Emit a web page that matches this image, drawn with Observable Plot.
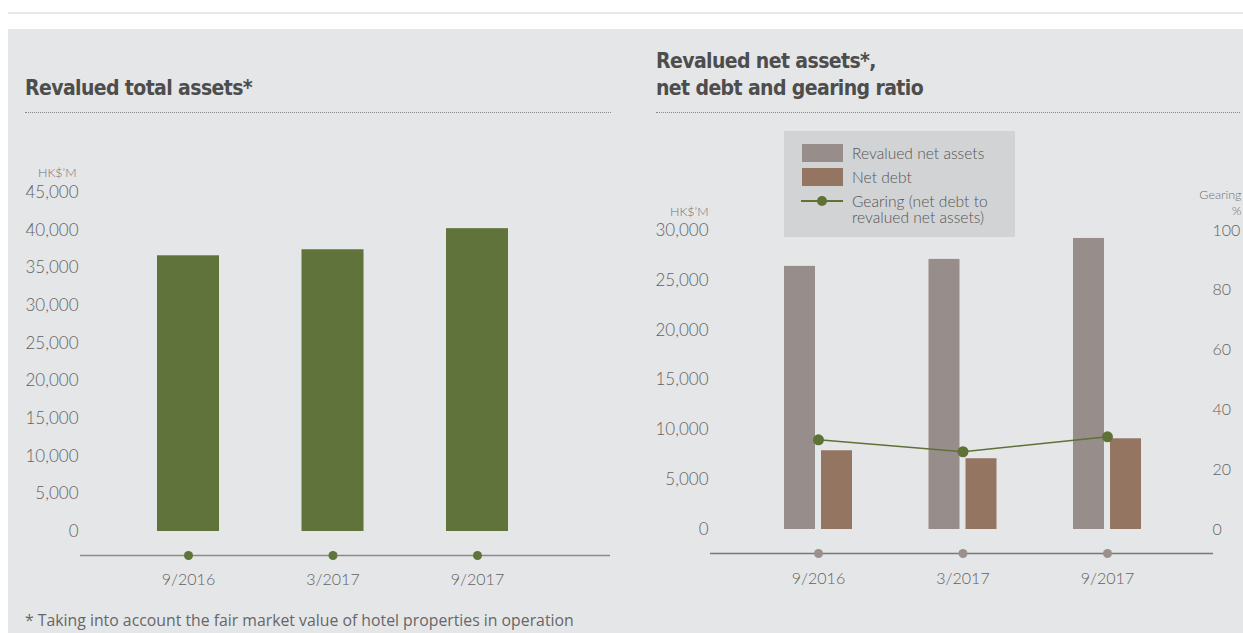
<!DOCTYPE html>
<html><head><meta charset="utf-8">
<script src="https://cdn.jsdelivr.net/npm/d3@7"></script>
<script src="https://cdn.jsdelivr.net/npm/@observablehq/plot@0.6"></script>
<style>
body{margin:0;background:#fff;font-family:Lato,"Open Sans",sans-serif;}
#wrap{position:relative;width:1243px;height:633px;overflow:hidden;}
.topline{position:absolute;left:8px;top:12px;width:1235px;height:2px;background:#e7e8ea;}
.panel{position:absolute;left:8px;top:29px;width:1235px;height:604px;background:#e5e6e8;}
.title{position:absolute;font-family:"Liberation Sans Narrow","DejaVu Sans Condensed",sans-serif;font-weight:bold;font-size:21px;letter-spacing:-0.6px;color:#4d4d4d;line-height:27px;white-space:nowrap;}
.rule{position:absolute;top:112px;height:0;border-top:1px dotted #8a8a8a;}
.plot{position:absolute;top:150px;}
.legend{position:absolute;left:784px;top:131px;width:231px;height:106px;background:#d2d3d5;}
.lg{position:absolute;left:68px;font-size:15.6px;color:#555;font-weight:300;line-height:16px;white-space:nowrap;}
.sw{position:absolute;left:18px;width:41px;height:18px;}
.foot{position:absolute;left:25px;top:609px;font-family:"Open Sans",sans-serif;font-size:15.8px;color:#666;white-space:nowrap;}
</style></head>
<body>
<div id="wrap">
  <div class="topline"></div>
  <div class="panel"></div>
  <div class="title" style="left:25px;top:75px;">Revalued total assets*</div>
  <div class="rule" style="left:25px;width:586px;"></div>
  <div class="title" style="left:656px;top:48px;">Revalued net assets*,<br>net debt and gearing ratio</div>
  <div class="rule" style="left:656px;width:584px;"></div>
  <div id="left" class="plot" style="left:0px;"></div>
  <div id="right" class="plot" style="left:640px;"></div>
  <div class="legend">
    <div class="sw" style="top:13px;background:#978d8a;"></div>
    <div class="lg" style="top:14px;">Revalued net assets</div>
    <div class="sw" style="top:37px;background:#937562;"></div>
    <div class="lg" style="top:38px;">Net debt</div>
    <div style="position:absolute;left:17px;top:69px;width:42px;height:1.5px;background:#5e7236;"></div>
    <div style="position:absolute;left:33px;top:65px;width:10px;height:10px;border-radius:50%;background:#5e7236;"></div>
    <div class="lg" style="top:62px;">Gearing (net debt to<br>revalued net assets)</div>
  </div>
  <div class="foot">* Taking into account the fair market value of hotel properties in operation</div>
</div>
<script>
const categories = ["9/2016", "3/2017", "9/2017"];
const totalAssets = [36600, 37400, 40200];
const netAssets = [26400, 27100, 29200];
const netDebt = [7900, 7100, 9100];
const gearing = [30, 26, 31];
const leftTicks = [0, 5000, 10000, 15000, 20000, 25000, 30000, 35000, 40000, 45000];
const rightTicks = [0, 5000, 10000, 15000, 20000, 25000, 30000];
const gearingTicks = [0, 20, 40, 60, 80, 100];
const gearingToAmount = 300; // 100% on the right axis equals 30,000 on the left axis

const leftData = categories.map((c, i) => ({date: c, value: totalAssets[i]}));
const rightData = categories.map((c, i) => ({date: c, net: netAssets[i], debt: netDebt[i], gearing: gearing[i]}));

const fmt = d3.format(",");
const family = "Lato, 'Open Sans', sans-serif";
const tickFont = {fontSize: 17, fill: "#626262", fontFamily: family, fontWeight: 300};
const rightTickFont = {fontSize: 16, fill: "#626262", fontFamily: family, fontWeight: 300};
const catFont = {fontSize: 16, fill: "#626262", fontFamily: family, fontWeight: 300};
const smallFont = {fontSize: 12.5, fill: "#707070", fontFamily: family, fontWeight: 300};

const left = Plot.plot({
  width: 620, height: 450,
  marginLeft: 80, marginRight: 10, marginTop: 42, marginBottom: 69,
  style: {background: "transparent", overflow: "visible"},
  x: {type: "band", domain: categories, range: [84.75, 580.25], paddingInner: 0.571, paddingOuter: 0.5, round: false, axis: null},
  y: {domain: [0, 45000], axis: null},
  marks: [
    Plot.ruleY([0], {dy: 24, stroke: "#8a8a8a", strokeWidth: 1.5}),
    Plot.barY(leftData, {x: "date", y: "value", fill: "#60733a"}),
    Plot.dot(leftData, {x: "date", y: () => 0, dy: 24, r: 4.5, fill: "#60733a", stroke: "none"}),
    Plot.text(leftData, {x: "date", y: () => 0, dy: 48, text: "date", lineAnchor: "middle", ...catFont}),
    Plot.axisY(leftTicks, {tickSize: 0, tickPadding: 2, tickFormat: fmt, label: null, ...tickFont}),
    Plot.text(["HK$’M"], {text: d => d, frameAnchor: "top-left", dx: -4, dy: -24, textAnchor: "end", ...smallFont})
  ]
});
document.getElementById("left").appendChild(left);

const right = Plot.plot({
  width: 603, height: 450,
  marginLeft: 70, marginRight: 30, marginTop: 80, marginBottom: 71,
  style: {background: "transparent", overflow: "visible"},
  x: {type: "band", domain: categories, range: [71.75, 573.25], paddingInner: 0.5294, paddingOuter: 0.5, round: false, axis: null},
  y: {domain: [0, 30000], axis: null},
  marks: [
    Plot.ruleY([0], {dy: 24, stroke: "#777", strokeWidth: 1.5}),
    Plot.barY(rightData, {x: "date", y: "net", fill: "#978d8a", insetRight: 37}),
    Plot.barY(rightData, {x: "date", y: "debt", fill: "#937562", insetLeft: 37}),
    Plot.line(rightData, {x: "date", y: d => d.gearing * gearingToAmount, stroke: "#5e7236", strokeWidth: 1.5}),
    Plot.dot(rightData, {x: "date", y: d => d.gearing * gearingToAmount, r: 5.5, fill: "#5e7236", stroke: "none"}),
    Plot.dot(rightData, {x: "date", y: () => 0, dy: 24, r: 4.5, fill: "#9a918d", stroke: "none"}),
    Plot.text(rightData, {x: "date", y: () => 0, dy: 49, text: "date", lineAnchor: "middle", ...catFont}),
    Plot.axisY(rightTicks, {anchor: "left", tickSize: 0, tickPadding: 2, tickFormat: fmt, label: null, ...tickFont}),
    Plot.axisY(gearingTicks.map(d => d * gearingToAmount), {anchor: "right", tickSize: 0, tickPadding: 0, dx: -1, tickFormat: d => d / gearingToAmount, label: null, ...rightTickFont}),
    Plot.text(["HK$’M"], {text: d => d, frameAnchor: "top-left", dx: -2, dy: -23, textAnchor: "end", ...smallFont}),
    Plot.text(["Gearing"], {text: d => d, frameAnchor: "top-right", dx: 28, dy: -40, textAnchor: "end", ...smallFont}),
    Plot.text(["%"], {text: d => d, frameAnchor: "top-right", dx: 28, dy: -24, textAnchor: "end", ...smallFont})
  ]
});
document.getElementById("right").appendChild(right);
</script>
</body></html>
